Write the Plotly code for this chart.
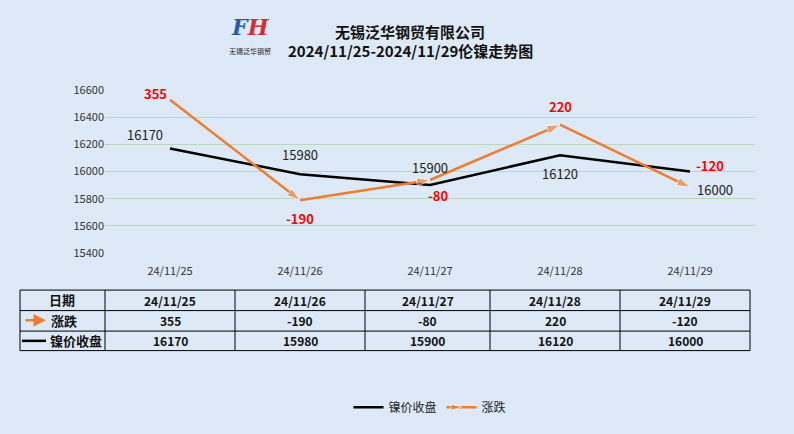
import plotly.graph_objects as go

dates = ["24/11/25", "24/11/26", "24/11/27", "24/11/28", "24/11/29"]
close = [16170, 15980, 15900, 16120, 16000]
change = [355, -190, -80, 220, -120]

W, H = 794, 434
L, R, T, B = 105, 39, 90, 177
pw, ph = W - L - R, H - T - B


def px(x):
    return (x - L) / pw


def py(y):
    return (H - B - y) / ph


def note(x, y, text, size=12, color="#111", **kw):
    fig.add_annotation(x=px(x), y=py(y), xref="paper", yref="paper", showarrow=False,
                       xanchor="center", yanchor="middle", text=text,
                       font=dict(size=size, color=color, **kw))


FONT = "Noto Sans CJK SC"
fig = go.Figure()
fig.add_trace(go.Scatter(
    x=dates, y=close, mode="lines", name="镍价收盘",
    line=dict(color="black", width=2.5)))
fig.add_trace(go.Scatter(
    x=dates, y=change, mode="lines+markers", name="涨跌", yaxis="y2",
    line=dict(color="#ed7d31", width=2.5),
    marker=dict(symbol="arrow", angleref="previous", size=[0, 14, 14, 14, 14], color="#ed7d31")))

# point labels
close_shift = [(-25, 14), (0, 20), (0, 18), (0, -18), (25, -18)]
for d, v, (dx, dy) in zip(dates, close, close_shift):
    fig.add_annotation(x=d, y=v, text=str(v), showarrow=False, xshift=dx, yshift=dy,
                       font=dict(size=13, color="#222"))
chg_shift = [(-15, 6), (0, -18), (8, -16), (0, 18), (20, 22)]
for d, v, (dx, dy) in zip(dates, change, chg_shift):
    fig.add_annotation(x=d, y=v, yref="y2", text="<b>" + str(v) + "</b>", showarrow=False,
                       xshift=dx, yshift=dy, font=dict(size=13, color="red"))

fig.update_layout(
    width=W, height=H, margin=dict(l=L, r=R, t=T, b=B),
    paper_bgcolor="#dde9f6", plot_bgcolor="#dde9f6",
    font=dict(family=FONT, size=11, color="#333"),
    xaxis=dict(showgrid=False, ticks="", range=[-0.5, 4.5], ticklabelstandoff=10,
               tickfont=dict(size=11)),
    yaxis=dict(range=[15400, 16600], dtick=200, tickformat="d", gridcolor="#b8d8b8",
               zeroline=False, tickfont=dict(size=11)),
    yaxis2=dict(overlaying="y", range=[-476, 408], visible=False),
    showlegend=True,
    legend=dict(orientation="h", x=0.5, xanchor="center", y=py(415), yanchor="middle",
                font=dict(size=12, color="#222"), bgcolor="rgba(0,0,0,0)"),
)

# title + logo
note(410, 30, "<b>无锡泛华钢贸有限公司</b>", size=15)
note(410, 50, "<b>2024/11/25-2024/11/29伦镍走势图</b>", size=15)
note(250, 25, "<i><b>F<span style='color:#d03030'>H</span></b></i>", size=22,
     color="#2a5aa8", family="DejaVu Serif")
note(250, 50, "无锡泛华钢贸", size=7, color="#222")

# table
cols = [20, 105, 235, 365, 490, 620, 750]
rows = [295, 316, 337, 357]
for x in cols:
    fig.add_shape(type="line", xref="paper", yref="paper", x0=px(x), x1=px(x),
                  y0=py(rows[0]), y1=py(rows[-1]), line=dict(color="black", width=1))
for y in rows:
    fig.add_shape(type="line", xref="paper", yref="paper", x0=px(cols[0]), x1=px(cols[-1]),
                  y0=py(y), y1=py(y), line=dict(color="black", width=1))
row_vals = [dates, [str(v) for v in change], [str(v) for v in close]]
for r, vals in enumerate(row_vals):
    yc = (rows[r] + rows[r + 1]) / 2
    for c, v in enumerate(vals):
        note((cols[c + 1] + cols[c + 2]) / 2, yc, "<b>" + v + "</b>")
note(62, 305, "<b>日期</b>", size=13)
note(64, 326, "<b>涨跌</b>", size=13)
note(76, 347, "<b>镍价收盘</b>", size=13)
fig.add_annotation(x=px(46), y=py(326), ax=-22, ay=0, xref="paper", yref="paper",
                   showarrow=True, arrowhead=2, arrowsize=1,
                   arrowwidth=2.5, arrowcolor="#ed7d31", text="")
fig.add_shape(type="line", xref="paper", yref="paper", x0=px(22), x1=px(46),
              y0=py(347), y1=py(347), line=dict(color="black", width=2.5))

fig.write_html("out.html", post_script="document.body.style.margin='0';",
               config={"displayModeBar": False})
